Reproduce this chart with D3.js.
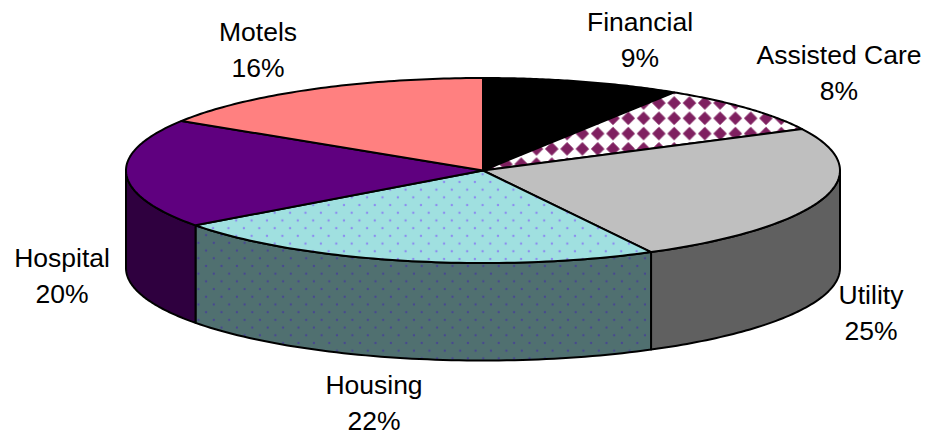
<!DOCTYPE html>
<html><head><meta charset="utf-8">
<script src="https://cdn.jsdelivr.net/npm/d3@7/dist/d3.min.js"></script>
<style>html,body{margin:0;background:#fff}svg{display:block}text{font-family:"Liberation Sans",Arial,sans-serif;font-size:26.5px;fill:#000}</style>
</head><body><svg id="c" width="940" height="438"></svg>
<script>
const categories=["Financial","Assisted Care","Utility","Housing","Hospital","Motels"];
const shares=[9,8.6,24.6,22.7,19.1,16];
const percentLabels=["9%","8%","25%","22%","20%","16%"];
const topColors=["#000000","url(#diamonds)","#bfbfbf","url(#dotsTop)","#5f007f","#ff8080"];
const sideColors=["#000000","#4a1038","#606060","url(#dotsSide)","#2f003f","#804040"];
const labelAnchors=[[640,31],[839,64],[871,304],[374,394],[62,267],[258,41]];

const svg=d3.select("#c");
const cx=483,cy=170.5,rx=357,ry=92.5,depth=97.5;
const defs=svg.append("defs");
const diamonds=defs.append("pattern").attr("id","diamonds").attr("patternUnits","userSpaceOnUse").attr("width",15.3).attr("height",15.3).attr("patternTransform","translate(8.65,3.55)");
diamonds.append("rect").attr("width",15.3).attr("height",15.3).attr("fill","#fff");
diamonds.append("path").attr("d","M7.65 1.3L14 7.65L7.65 14L1.3 7.65Z").attr("fill","#7f2060").attr("stroke","#7f2060").attr("stroke-width",.8).attr("stroke-linejoin","round");
function dots(id,bg,dot,tx,ty){
  const p=defs.append("pattern").attr("id",id).attr("patternUnits","userSpaceOnUse").attr("width",15.4).attr("height",15.4).attr("patternTransform",`translate(${tx},${ty})`);
  p.append("rect").attr("width",15.4).attr("height",15.4).attr("fill",bg);
  [[3.8,3.8],[11.5,11.5]].forEach(d=>p.append("circle").attr("cx",d[0]).attr("cy",d[1]).attr("r",1.2).attr("fill",dot));
}
dots("dotsTop","#a0e0e0","#8c8cf0",9.1,8.7);
dots("dotsSide","#507070","#484890",2.1,.3);

const pie=d3.pie().value(d=>d).sort(null)(shares);
const xAt=a=>cx+rx*Math.sin(a), yAt=(a,o=0)=>cy+o-ry*Math.cos(a);
const arcPts=(a0,a1,o)=>d3.range(0,65).map(i=>{const a=d3.interpolateNumber(a0,a1)(i/64);return [xAt(a),yAt(a,o)];});
const line=d3.line();
const stroke=g=>g.attr("stroke","#000").attr("stroke-width",2).attr("stroke-linejoin","round");

// side walls: only the visible (front) part of each slice
const fl=Math.PI/2, fr=3*Math.PI/2;
svg.append("g").selectAll("path").data(pie.filter(d=>d.endAngle>fl&&d.startAngle<fr)).join("path")
  .attr("d",d=>{const a0=Math.max(d.startAngle,fl),a1=Math.min(d.endAngle,fr);
    return line([...arcPts(a0,a1,0),...arcPts(a1,a0,depth)])+"Z";})
  .attr("fill",d=>sideColors[d.index]).call(stroke);

// top faces
svg.append("g").selectAll("path").data(pie).join("path")
  .attr("d",d=>line([[cx,cy],...arcPts(d.startAngle,d.endAngle,0)])+"Z")
  .attr("fill",d=>topColors[d.index]).call(stroke);

// labels
const g=svg.append("g").attr("text-anchor","middle");
categories.forEach((c,i)=>{
  g.append("text").attr("x",labelAnchors[i][0]).attr("y",labelAnchors[i][1]).text(c);
  g.append("text").attr("x",labelAnchors[i][0]).attr("y",labelAnchors[i][1]+35.5).text(percentLabels[i]);
});
</script></body></html>
